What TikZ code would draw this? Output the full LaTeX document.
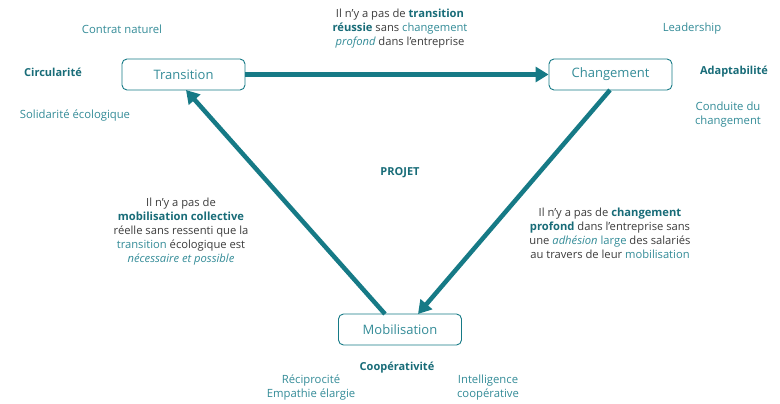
\documentclass[tikz,border=0pt]{standalone}
\usepackage{fontspec}
\setmainfont{Open Sans}
\usetikzlibrary{arrows.meta}
\definecolor{lineteal}{RGB}{22,122,134}
\definecolor{boldteal}{RGB}{24,108,120}
\definecolor{lightteal}{RGB}{52,140,152}
\definecolor{txtgray}{RGB}{60,60,60}
\tikzset{
  box/.style={draw=lineteal, line width=0.9pt, rounded corners=5pt, minimum width=123pt, minimum height=31pt, inner sep=0pt, text=lightteal, font=\fontsize{13}{15}\selectfont},
  conn/.style={draw=lineteal, line width=4.5pt, -{Triangle[length=13pt,width=15pt]}},
  kw/.style={text=lightteal, font=\fontsize{11.3}{14}\selectfont, align=center, inner sep=0pt},
  kwb/.style={text=boldteal, font=\fontsize{11}{14}\selectfont\bfseries, align=center, inner sep=0pt},
  para/.style={text=txtgray, font=\fontsize{11.2}{14}\selectfont, align=center, inner sep=0pt},
}
\newcommand{\hb}[1]{\textcolor{boldteal}{\bfseries #1}}
\newcommand{\hl}[1]{\textcolor{lightteal}{#1}}
\newcommand{\hi}[1]{\textcolor{lightteal}{\itshape #1}}
\begin{document}
\begin{tikzpicture}[x=1pt,y=-1pt]
\useasboundingbox[fill=white] (0,0) rectangle (780,404);
\node[box] (tr) at (183.5,74.5) {Transition};
\node[box] (ch) at (610.5,74.5) {Changement};
\node[box] (mo) at (400,329.5) {Mobilisation};

\draw[conn] (tr.east) -- (ch.west);
\coordinate (chb) at (610,90);
\coordinate (mot) at (418,314);
\draw[conn] (chb) -- (mot);
\coordinate (mot2) at (385,314);
\coordinate (trb) at (186,90);
\draw[conn] (mot2) -- (trb);

\node[kw] (cn) at (122,29) {Contrat naturel};
\node[kwb] (ci) at (53,72) {Circularité};
\node[kw] (se) at (75,116) {Solidarité écologique};
\node[kw] (le) at (692,29) {Leadership};
\node[kwb] (ad) at (734,72) {Adaptabilité};
\node[kw] (cd) at (728,115) {Conduite du\\changement};
\node[kwb] (pr) at (400,173) {PROJET};
\node[kwb] (co) at (397,368) {Coopérativité};
\node[kw] (re) at (311,388) {Réciprocité\\Empathie élargie};
\node[kw] (ic) at (488,388) {Intelligence\\coopérative};

\node[para] (t1) at (400,29) {Il n’y a pas de \hb{transition}\\\hb{réussie} sans \hl{changement}\\\hi{profond} dans l’entreprise};
\node[para] (t2) at (181,232) {Il n’y a pas de\\\hb{mobilisation collective}\\réelle sans ressenti que la\\\hl{transition} écologique est\\\hi{nécessaire et possible}};
\node[para] (t3) at (610,233) {Il n’y a pas de \hb{changement}\\\hb{profond} dans l’entreprise sans\\une \hi{adhésion} \hl{large} des salariés\\au travers de leur \hl{mobilisation}};
\end{tikzpicture}
\end{document}
